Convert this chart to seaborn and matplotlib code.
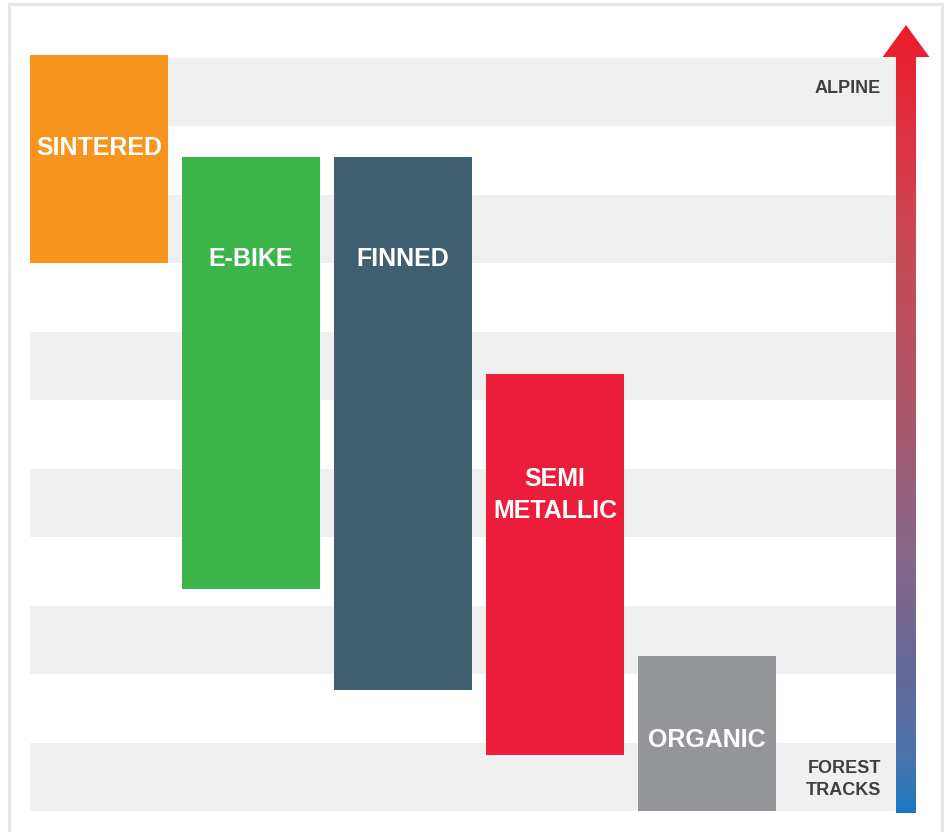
import numpy as np
import pandas as pd
import matplotlib
matplotlib.use("Agg")
import matplotlib.pyplot as plt
from matplotlib.patches import Polygon, Rectangle
from matplotlib.colors import LinearSegmentedColormap
import seaborn as sns

# Brake pad compounds and the terrain range each one covers
# (0 = forest tracks at the bottom band, 11 = alpine at the top band)
compounds = ["SINTERED", "E-BIKE", "FINNED", "SEMI METALLIC", "ORGANIC"]
bar_labels = ["SINTERED", "E-BIKE", "FINNED", "SEMI\nMETALLIC", "ORGANIC"]
range_low = [8.0, 3.25, 1.77, 0.82, 0.0]
range_high = [11.05, 9.55, 9.55, 6.38, 2.27]
bar_colors = ["#F7941E", "#3BB54A", "#405F70", "#ED1C3A", "#949599"]
scale_top_label = "ALPINE"
scale_bottom_label = "FOREST\nTRACKS"

sns.set_style("white")
plt.rcParams["font.family"] = ["Liberation Sans", "DejaVu Sans"]

W, H = 947, 832
fig = plt.figure(figsize=(W / 100, H / 100), dpi=100)
ax = fig.add_axes([0, 0, 1, 1])

df = pd.DataFrame({
    "compound": compounds,
    "span": np.array(range_high) - np.array(range_low),
})

# Alternating light bands behind the bars
n_bands = 11
for k in range(0, n_bands, 2):
    ax.axhspan(k, k + 1, xmin=30 / W, xmax=896 / W, color="#F0F0F0", lw=0, zorder=0)

sns.barplot(data=df, x="compound", y="span", hue="compound", palette=bar_colors,
            legend=False, width=0.905, saturation=1, ax=ax, zorder=2)

# Float each bar on its lower bound
bars = [p for c in ax.containers for p in c]
for patch, lo in zip(bars, range_low):
    patch.set_y(lo)
    patch.set_linewidth(0)

# Labels inside the bars
label_pos = [9.69, 8.07, 8.07, 4.62, 1.03]
for i, (txt, yy) in enumerate(zip(bar_labels, label_pos)):
    ax.text(i, yy, txt, ha="center", va="center", color="white", fontsize=18,
            fontweight="bold", linespacing=1.42, zorder=4)

# Scale labels
x_right = (881 - 99) / 152
ax.text(x_right, 10.55, scale_top_label, ha="right", va="center", color="#3F3F3F",
        fontsize=13, fontweight="bold", zorder=4)
ax.text(x_right, 0.46, scale_bottom_label, ha="right", va="center", color="#3F3F3F",
        fontsize=13, fontweight="bold", linespacing=1.45, multialignment="right", zorder=4)

# Gradient arrow from forest tracks up to alpine
xc = (906 - 99) / 152
shaft_hw = 10 / 152
head_hw = 23.5 / 152
y_bot, y_head, y_tip = -0.03, 11.015, 11.483
arrow = Polygon([
    (xc - shaft_hw, y_bot), (xc + shaft_hw, y_bot), (xc + shaft_hw, y_head),
    (xc + head_hw, y_head), (xc, y_tip), (xc - head_hw, y_head),
    (xc - shaft_hw, y_head)], closed=True, facecolor="none", edgecolor="none",
    transform=ax.transData)
ax.add_patch(arrow)
arrow_cmap = LinearSegmentedColormap.from_list("terrain_arrow", [
    (0.0, "#1B78C0"), (0.067, "#4B74AE"), (0.162, "#60699C"), (0.334, "#896888"),
    (0.524, "#AE5669"), (0.714, "#C84B55"), (1.0, "#EE1C2E")])
grad = np.linspace(0, 1, 500)[:, None]
img = ax.imshow(grad, extent=[xc - head_hw, xc + head_hw, y_bot, y_tip], cmap=arrow_cmap,
                origin="lower", aspect="auto", zorder=3, interpolation="bilinear")
img.set_clip_path(arrow)

# Map data units onto the canvas
ax.set_xlim(-99 / 152, (W - 99) / 152)
ax.set_ylim(-(H - 811) / 68.45, 811 / 68.45)
ax.axis("off")

# Light frame around the panel
fig.add_artist(Rectangle((9 / W, -0.05), (942 - 9) / W, 1.05 - 4.5 / H,
                         transform=fig.transFigure, fill=False,
                         edgecolor="#E6E6E6", lw=2.2))

fig.savefig("out.png", dpi=100, facecolor="white")
